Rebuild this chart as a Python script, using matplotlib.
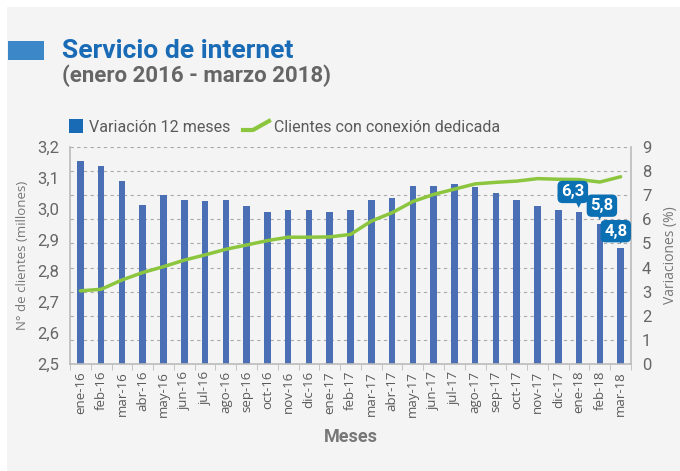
import matplotlib.pyplot as plt
import matplotlib.patches as patches
from matplotlib.ticker import FuncFormatter, FixedLocator
import numpy as np

meses = ['ene-16', 'feb-16', 'mar-16', 'abr-16', 'may-16', 'jun-16', 'jul-16',
         'ago-16', 'sep-16', 'oct-16', 'nov-16', 'dic-16', 'ene-17', 'feb-17',
         'mar-17', 'abr-17', 'may-17', 'jun-17', 'jul-17', 'ago-17', 'sep-17',
         'oct-17', 'nov-17', 'dic-17', 'ene-18', 'feb-18', 'mar-18']
# variación 12 meses (%)
variacion = [8.4, 8.2, 7.6, 6.6, 7.0, 6.8, 6.75, 6.8, 6.55, 6.3, 6.4, 6.4, 6.3, 6.4,
             6.8, 6.9, 7.4, 7.4, 7.45, 7.35, 7.1, 6.8, 6.55, 6.4, 6.3, 5.8, 4.8]
# clientes con conexión dedicada (millones)
clientes = [2.736, 2.741, 2.771, 2.795, 2.814, 2.835, 2.852, 2.870, 2.884, 2.898,
            2.909, 2.909, 2.910, 2.918, 2.961, 2.988, 3.024, 3.047, 3.064, 3.081,
            3.086, 3.090, 3.098, 3.096, 3.095, 3.087, 3.104]
etiquetas = {24: '6,3', 25: '5,8', 26: '4,8'}
# desplazamiento de cada globo (puntos)
offsets = {24: (-4.5, 14.5), 25: (1.5, 13.3), 26: (-3.5, 12.3)}

BG = '#f4f4f4'
AZUL_BARRA = '#4a6fb5'
VERDE = '#8cc63f'
AZUL_TITULO = '#1a6bb5'
AZUL_ETIQ = '#0b6fb4'
GRIS = '#5a5a5a'
NARROW = ['Liberation Sans Narrow', 'Roboto', 'DejaVu Sans']
SANS = ['Open Sans', 'DejaVu Sans']

fig = plt.figure(figsize=(6.8, 4.71), dpi=100)
fig.patch.set_facecolor('white')
fig.patches.append(patches.Rectangle((7 / 680, 0), 1, 1 - 7 / 471, transform=fig.transFigure,
                                     facecolor=BG, edgecolor='none', zorder=-10))

# titulo
fig.patches.append(patches.Rectangle((8 / 680, 1 - 60 / 471), 36 / 680, 19 / 471,
                                     transform=fig.transFigure, facecolor='#3b87c7',
                                     edgecolor='none'))
fig.text(62 / 680, 1 - 51 / 471, 'Servicio de internet', family=NARROW, fontsize=19,
         fontweight='bold', color=AZUL_TITULO, va='center', ha='left')
fig.text(62 / 680, 1 - 76 / 471, '(enero 2016 - marzo 2018)', family=NARROW, fontsize=16,
         fontweight='bold', color='#666666', va='center', ha='left')

ax = fig.add_axes([70 / 680, 1 - 364 / 471, 561 / 680, 217 / 471])
ax.set_facecolor(BG)
x = np.arange(len(meses))

ax.bar(x, variacion, width=0.32, color=AZUL_BARRA, zorder=2)
ax.set_ylim(0, 9)
ax.set_xlim(-0.5, len(meses) - 0.5)
ax.set_yticks(range(0, 10))
ax.grid(axis='y', linestyle=(0, (3, 3)), color='#aaaaaa', linewidth=0.8, zorder=0)

ax.set_xticks(x)
ax.set_xticklabels(meses, rotation=90, family=SANS, fontsize=9.5, color=GRIS)
ax.xaxis.set_minor_locator(FixedLocator(np.arange(-0.5, len(meses), 1)))
ax.tick_params(axis='x', which='major', length=0, pad=5)
ax.tick_params(axis='x', which='minor', length=4, color='#bbbbbb')
ax.set_xlabel('Meses', family=NARROW, fontsize=13, fontweight='bold', color='#777777',
              labelpad=8)

ax.spines['top'].set_visible(False)
for s in ['left', 'right', 'bottom']:
    ax.spines[s].set_color('#bbbbbb')
    ax.spines[s].set_linewidth(1.2)

ax2 = ax.twinx()
ax2.plot(x, clientes, color=VERDE, linewidth=2.5, zorder=3, solid_capstyle='round')
ax2.set_ylim(2.5, 3.2)
ax2.yaxis.tick_left()
ax2.yaxis.set_label_position('left')
ax2.set_yticks(np.arange(2.5, 3.21, 0.1))
ax2.yaxis.set_major_formatter(FuncFormatter(lambda v, p: f'{v:.1f}'.replace('.', ',')))
ax2.tick_params(axis='y', length=0, labelsize=12, labelcolor='#666666', pad=8)
for lab in ax2.get_yticklabels():
    lab.set_family(NARROW)
ax2.set_ylabel('N° de clientes (millones)', family=SANS, fontsize=9.5, color='#777777',
               labelpad=6)
for s in ax2.spines.values():
    s.set_visible(False)

# eje derecho (barras) despues de twinx
ax.yaxis.tick_right()
ax.yaxis.set_label_position('right')
ax.tick_params(axis='y', length=0, labelsize=12, labelcolor='#666666', pad=8)
for lab in ax.get_yticklabels():
    lab.set_family(NARROW)
ax.set_ylabel('Variaciones (%)', family=SANS, fontsize=10, color='#777777', labelpad=8)

# etiquetas de valor (globos)
for i, txt in etiquetas.items():
    y_lin = 2.5 + variacion[i] * 0.7 / 9
    dx, dy = offsets[i]
    ax2.annotate(txt, xy=(i, y_lin), xytext=(dx, dy), textcoords='offset points',
                 ha='center', va='center', family=NARROW, fontsize=12, fontweight='bold',
                 color='white', zorder=6,
                 bbox=dict(boxstyle='round,pad=0.22,rounding_size=0.3', facecolor=AZUL_ETIQ,
                           edgecolor='none'))
    ax2.annotate('\u25bc', xy=(i, y_lin), xytext=(0, 5), textcoords='offset points',
                 ha='center', va='center', fontsize=5, color=AZUL_ETIQ, zorder=6)

# leyenda
fig.patches.append(patches.Rectangle((69 / 680, 1 - 133 / 471), 14 / 680, 14 / 471,
                                     transform=fig.transFigure, facecolor='#1a6bb5',
                                     edgecolor='none'))
fig.text(89 / 680, 1 - 127 / 471, 'Variación 12 meses', family=NARROW, fontsize=11.5,
         color=GRIS, va='center', ha='left')
fig.lines.append(plt.Line2D([243 / 680, 253 / 680, 269 / 680],
                            [1 - 130 / 471, 1 - 130 / 471, 1 - 121 / 471],
                            transform=fig.transFigure, color=VERDE, linewidth=3))
fig.text(274 / 680, 1 - 127 / 471, 'Clientes con conexión dedicada', family=NARROW,
         fontsize=11.5, color=GRIS, va='center', ha='left')

fig.savefig('out.png', dpi=100, facecolor=fig.get_facecolor())
